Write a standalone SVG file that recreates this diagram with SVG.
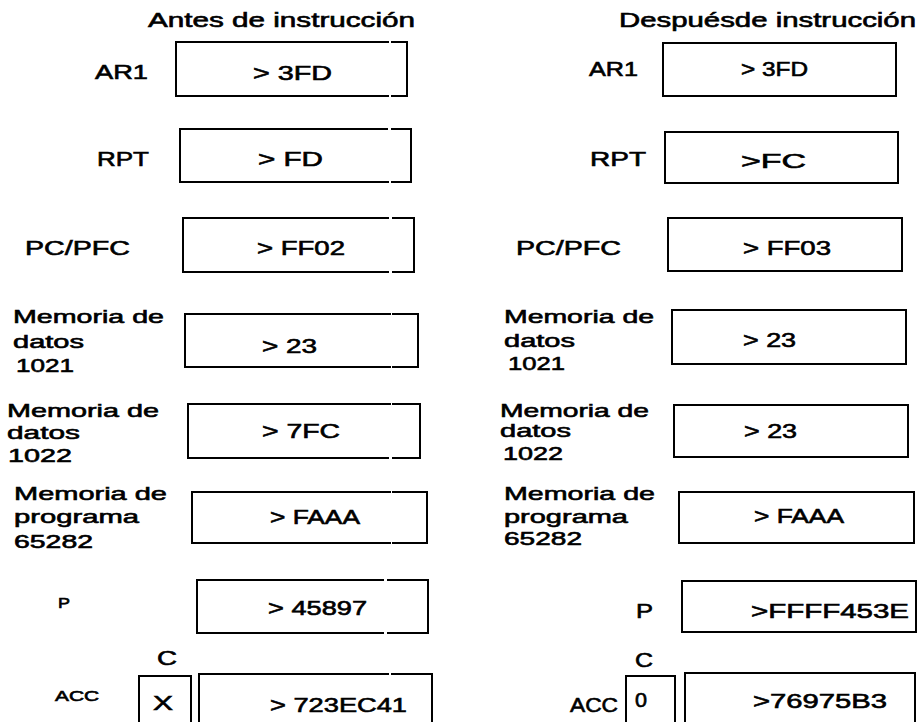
<svg xmlns="http://www.w3.org/2000/svg" width="922" height="722" viewBox="0 0 922 722">
<style>
text { font-family: "Liberation Sans", Arial, Helvetica, sans-serif; font-size: 20px; fill: #000; stroke: #000; stroke-width: 0.6; }
.m { font-size: 19px; }
.s { font-size: 14px; }
.box { fill: none; stroke: #000; stroke-width: 2; stroke-linecap: square; }
</style>
<rect x="0" y="0" width="922" height="722" fill="#fff"/>
<g id="titles">
<text x="148" y="27" textLength="267" lengthAdjust="spacingAndGlyphs">Antes de instrucción</text>
<text x="619" y="27" textLength="297" lengthAdjust="spacingAndGlyphs">Despuésde instrucción</text>
</g>
<g id="connectors"></g>
<!-- Left column: before -->
<g id="antes-ar1">
<text x="95" y="79" textLength="53" lengthAdjust="spacingAndGlyphs">AR1</text>
<path class="box" d="M388,42 H176 V96 H388 M392,96 H407 V42 H392"/>
<text x="253" y="80" textLength="79" lengthAdjust="spacingAndGlyphs">&gt; 3FD</text>
</g>
<g id="antes-rpt">
<text x="97" y="166" textLength="52" lengthAdjust="spacingAndGlyphs">RPT</text>
<path class="box" d="M387,129 H180 V182 H388 M392,182 H411 V129 H392"/>
<text x="258" y="166" textLength="65" lengthAdjust="spacingAndGlyphs">&gt; FD</text>
</g>
<g id="antes-pc">
<text x="25" y="255" textLength="105" lengthAdjust="spacingAndGlyphs">PC/PFC</text>
<path class="box" d="M388,218 H183 V272 H388 M393,272 H414 V218 H393"/>
<text x="257" y="255" textLength="88" lengthAdjust="spacingAndGlyphs">&gt; FF02</text>
</g>
<g id="antes-mem1021">
<text class="m" x="13" y="323" textLength="151" lengthAdjust="spacingAndGlyphs">Memoria de</text>
<text class="m" x="13" y="348" textLength="71" lengthAdjust="spacingAndGlyphs">datos</text>
<text class="m" x="16" y="372" textLength="58" lengthAdjust="spacingAndGlyphs">1021</text>
<path class="box" d="M390,314 H185 V367 H390 M393,367 H418 V314 H393"/>
<text x="262" y="353" textLength="55" lengthAdjust="spacingAndGlyphs">&gt; 23</text>
</g>
<g id="antes-mem1022">
<text class="m" x="7" y="417" textLength="152" lengthAdjust="spacingAndGlyphs">Memoria de</text>
<text class="m" x="7" y="439" textLength="73" lengthAdjust="spacingAndGlyphs">datos</text>
<text class="m" x="8" y="462" textLength="64" lengthAdjust="spacingAndGlyphs">1022</text>
<path class="box" d="M390,404 H188 V458 H388 M393,458 H420 V404 H393"/>
<text x="262" y="438" textLength="78" lengthAdjust="spacingAndGlyphs">&gt; 7FC</text>
</g>
<g id="antes-prog">
<text class="m" x="14" y="500" textLength="153" lengthAdjust="spacingAndGlyphs">Memoria de</text>
<text class="m" x="14" y="523" textLength="125" lengthAdjust="spacingAndGlyphs">programa</text>
<text class="m" x="14" y="548" textLength="79" lengthAdjust="spacingAndGlyphs">65282</text>
<path class="box" d="M390,492 H192 V543 H390 M393,543 H427 V492 H393"/>
<text x="270" y="524" textLength="90" lengthAdjust="spacingAndGlyphs">&gt; FAAA</text>
</g>
<g id="antes-p">
<text class="s" x="58" y="608" textLength="12" lengthAdjust="spacingAndGlyphs">P</text>
<path class="box" d="M383,580 H197 V633 H383 M388,633 H428 V580 H388"/>
<text x="268" y="615" textLength="99" lengthAdjust="spacingAndGlyphs">&gt; 45897</text>
</g>
<g id="antes-acc">
<text class="s" x="55" y="701" textLength="44" lengthAdjust="spacingAndGlyphs">ACC</text>
<text x="157" y="665" textLength="20" lengthAdjust="spacingAndGlyphs">C</text>
<path class="box" d="M139,724 V676 H191 V724"/>
<text x="153" y="710" textLength="20" lengthAdjust="spacingAndGlyphs">X</text>
<path class="box" d="M199,724 V674 H388 M392,674 H432 V724"/>
<text x="270" y="712" textLength="137" lengthAdjust="spacingAndGlyphs">&gt; 723EC41</text>
</g>
<!-- Right column: after -->
<g id="despues-ar1">
<text x="589" y="76" textLength="49" lengthAdjust="spacingAndGlyphs">AR1</text>
<rect class="box" x="663" y="43" width="233" height="53"/>
<text x="741" y="76" textLength="67" lengthAdjust="spacingAndGlyphs">&gt; 3FD</text>
</g>
<g id="despues-rpt">
<text x="590" y="166" textLength="56" lengthAdjust="spacingAndGlyphs">RPT</text>
<rect class="box" x="665" y="132" width="233" height="51"/>
<text x="741" y="168" textLength="65" lengthAdjust="spacingAndGlyphs">&gt;FC</text>
</g>
<g id="despues-pc">
<text x="516" y="255" textLength="105" lengthAdjust="spacingAndGlyphs">PC/PFC</text>
<rect class="box" x="668" y="218" width="234" height="53"/>
<text x="743" y="255" textLength="88" lengthAdjust="spacingAndGlyphs">&gt; FF03</text>
</g>
<g id="despues-mem1021">
<text class="m" x="504" y="323" textLength="150" lengthAdjust="spacingAndGlyphs">Memoria de</text>
<text class="m" x="504" y="347" textLength="71" lengthAdjust="spacingAndGlyphs">datos</text>
<text class="m" x="508" y="370" textLength="57" lengthAdjust="spacingAndGlyphs">1021</text>
<rect class="box" x="672" y="310" width="234" height="54"/>
<text x="743" y="347" textLength="53" lengthAdjust="spacingAndGlyphs">&gt; 23</text>
</g>
<g id="despues-mem1022">
<text class="m" x="500" y="417" textLength="149" lengthAdjust="spacingAndGlyphs">Memoria de</text>
<text class="m" x="500" y="437" textLength="71" lengthAdjust="spacingAndGlyphs">datos</text>
<text class="m" x="503" y="460" textLength="60" lengthAdjust="spacingAndGlyphs">1022</text>
<rect class="box" x="674" y="405" width="234" height="52"/>
<text x="744" y="438" textLength="53" lengthAdjust="spacingAndGlyphs">&gt; 23</text>
</g>
<g id="despues-prog">
<text class="m" x="504" y="500" textLength="151" lengthAdjust="spacingAndGlyphs">Memoria de</text>
<text class="m" x="504" y="523" textLength="124" lengthAdjust="spacingAndGlyphs">programa</text>
<text class="m" x="504" y="545" textLength="78" lengthAdjust="spacingAndGlyphs">65282</text>
<rect class="box" x="679" y="492" width="235" height="51"/>
<text x="754" y="523" textLength="90" lengthAdjust="spacingAndGlyphs">&gt; FAAA</text>
</g>
<g id="despues-p">
<text x="636" y="618" textLength="17" lengthAdjust="spacingAndGlyphs">P</text>
<rect class="box" x="682" y="581" width="234" height="51"/>
<text x="751" y="618" textLength="158" lengthAdjust="spacingAndGlyphs">&gt;FFFF453E</text>
</g>
<g id="despues-acc">
<text x="570" y="712" textLength="48" lengthAdjust="spacingAndGlyphs">ACC</text>
<text x="635" y="667" textLength="18" lengthAdjust="spacingAndGlyphs">C</text>
<path class="box" d="M626,724 V676 H675 V724"/>
<text x="635" y="707" textLength="12" lengthAdjust="spacingAndGlyphs">0</text>
<path class="box" d="M685,724 V673 H915 V724"/>
<text x="753" y="708" textLength="134" lengthAdjust="spacingAndGlyphs">&gt;76975B3</text>
</g>
</svg>
